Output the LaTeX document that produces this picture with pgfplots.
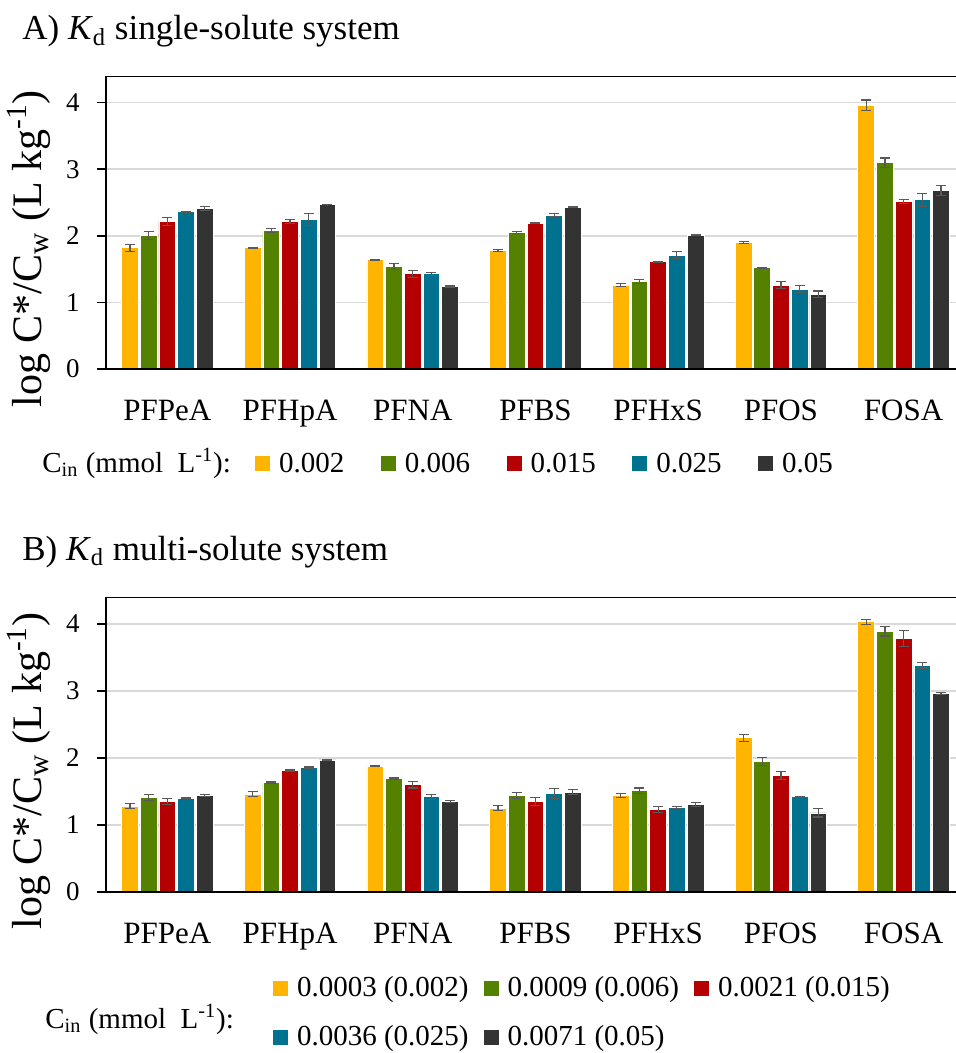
\documentclass[border=0pt]{standalone}
\usepackage{pgfplots}
\usepackage{pgfplotstable}
\usepackage{fontspec}
\setmainfont{Liberation Serif}
\pgfplotsset{compat=1.18}
\definecolor{cy}{HTML}{FFB400}
\definecolor{cg}{HTML}{548200}
\definecolor{cr}{HTML}{B40000}
\definecolor{cb}{HTML}{00718F}
\definecolor{ck}{HTML}{333333}
\definecolor{gridc}{HTML}{D9D9D9}
\definecolor{errc}{HTML}{595959}

\pgfplotstableread{
x a ea b eb c ec d ed e ee
0 1.82 0.05 2.01 0.06 2.22 0.06 2.36 0.01 2.41 0.03
1 1.82 0.005 2.08 0.03 2.22 0.03 2.25 0.09 2.47 0.005
2 1.64 0.01 1.54 0.04 1.43 0.05 1.43 0.02 1.24 0.01
3 1.78 0.01 2.05 0.02 2.19 0.01 2.31 0.02 2.43 0.01
4 1.26 0.02 1.31 0.03 1.61 0.01 1.71 0.05 2.01 0.01
5 1.90 0.01 1.52 0.01 1.26 0.05 1.20 0.05 1.12 0.05
6 3.96 0.08 3.10 0.07 2.51 0.03 2.54 0.10 2.68 0.07
}\tabA

\pgfplotstableread{
x a ea b eb c ec d ed e ee
0 1.28 0.04 1.41 0.05 1.35 0.04 1.40 0.01 1.44 0.01
1 1.46 0.04 1.63 0.01 1.81 0.01 1.86 0.01 1.97 0.01
2 1.88 0.01 1.69 0.01 1.60 0.05 1.42 0.04 1.35 0.01
3 1.25 0.04 1.44 0.05 1.35 0.06 1.47 0.07 1.49 0.04
4 1.44 0.03 1.51 0.04 1.23 0.05 1.26 0.01 1.30 0.03
5 2.30 0.05 1.95 0.06 1.74 0.06 1.42 0.01 1.18 0.06
6 4.03 0.04 3.89 0.07 3.78 0.12 3.38 0.04 2.96 0.01
}\tabB

\pgfplotsset{
  kd/.style={
    scale only axis, width=425pt,
    xmin=-0.5, xmax=6.427, ymin=0, ymax=4.4,
    ybar=0.95pt, bar width=8.4pt,
    axis lines*=left,
    axis line style={black, line width=0.75pt},
    xtick={0,...,6},
    xticklabels={PFPeA,PFHpA,PFNA,PFBS,PFHxS,PFOS,FOSA},
    xtick style={draw=none},
    ytick={0,1,2,3,4},
    ytick style={black, line width=0.75pt},
    tick align=outside, major tick length=4.5pt,
    ymajorgrids, major grid style={draw=gridc, line width=0.75pt},
    /pgf/number format/assume math mode=true,
    yticklabel style={font=\fontsize{13.5}{16}\selectfont, anchor=east, inner sep=0pt, xshift=-8.5pt},
    xticklabel style={font=\fontsize{15.5}{18}\selectfont, anchor=base, inner sep=0pt, yshift=-21pt},
    extra description/.code={
      \draw[black, line width=0.5pt] (rel axis cs:0,1) -- (rel axis cs:1,1);
      \draw[black, line width=0.9pt] (rel axis cs:0,0) -- (rel axis cs:1,0);},
    every axis y label/.style={at={(axis description cs:-0.0753,0.41)}, rotate=90, anchor=base, font=\fontsize{21}{25}\selectfont},
    ylabel={log C*/C\textsubscript{w} (L kg\textsuperscript{-1})},
    legend image code/.code={\fill[#1,draw=none] (0pt,-3pt) rectangle (7.5pt,4.5pt);},
    legend cell align=left,
  },
  err/.style={error bars/.cd, y dir=both, y explicit,
    error bar style={color=errc, line width=0.6pt},
    error mark options={rotate=90, mark size=2.5pt, line width=0.6pt, color=errc}},
}

\begin{document}
\begin{tikzpicture}
\useasboundingbox (0,0) rectangle (478pt,-526.5pt);

\node[anchor=base west, inner sep=0pt, font=\fontsize{17.5}{21}\selectfont] at (11pt,-20pt) {A) \textit{K}\textsubscript{d} single-solute system};
\node[anchor=base west, inner sep=0pt, font=\fontsize{17.5}{21}\selectfont] at (11pt,-280pt) {B) \textit{K}\textsubscript{d} multi-solute system};
\node[anchor=base west, inner sep=0pt, font=\fontsize{14.5}{17}\selectfont] at (21pt,-236pt) {C\textsubscript{in} (mmol\ \ L\textsuperscript{-1}):};
\node[anchor=base west, inner sep=0pt, font=\fontsize{14.5}{17}\selectfont] at (22.5pt,-514pt) {C\textsubscript{in} (mmol\ \ L\textsuperscript{-1}):};

\begin{axis}[kd, at={(53pt,-184.5pt)}, anchor=south west, height=146.5pt,
  legend columns=5,
  legend style={draw=none, fill=none, inner sep=0pt, outer sep=0pt,
    at={(axis description cs:0.1753,-0.2834)}, anchor=north west,
    font=\fontsize{14.5}{17}\selectfont,
    nodes={inner sep=0pt, text height=10pt, text depth=3pt},
    /tikz/every odd column/.append style={column sep=4.5pt},
    /tikz/every even column/.append style={column sep=18.25pt}},
]
\addplot[fill=cy, draw=white, line width=0.4pt, err] table[x=x, y=a, y error=ea] {\tabA};
\addplot[fill=cg, draw=white, line width=0.4pt, err] table[x=x, y=b, y error=eb] {\tabA};
\addplot[fill=cr, draw=white, line width=0.4pt, err] table[x=x, y=c, y error=ec] {\tabA};
\addplot[fill=cb, draw=white, line width=0.4pt, err] table[x=x, y=d, y error=ed] {\tabA};
\addplot[fill=ck, draw=white, line width=0.4pt, err] table[x=x, y=e, y error=ee] {\tabA};
\legend{0.002,0.006,0.015,0.025,0.05}
\end{axis}

\begin{axis}[kd, at={(53pt,-446pt)}, anchor=south west, height=147.5pt,
  legend columns=3,
  legend style={draw=none, fill=none, inner sep=0pt, outer sep=0pt,
    at={(axis description cs:0.1965,-0.2880)}, anchor=north west,
    font=\fontsize{14.5}{17}\selectfont, row sep=11.5pt,
    nodes={inner sep=0pt, text height=10pt, text depth=3pt},
    /tikz/every odd column/.append style={column sep=4.5pt},
    /tikz/every even column/.append style={column sep=7.5pt}},
]
\addplot[fill=cy, draw=white, line width=0.4pt, err] table[x=x, y=a, y error=ea] {\tabB};
\addplot[fill=cg, draw=white, line width=0.4pt, err] table[x=x, y=b, y error=eb] {\tabB};
\addplot[fill=cr, draw=white, line width=0.4pt, err] table[x=x, y=c, y error=ec] {\tabB};
\addplot[fill=cb, draw=white, line width=0.4pt, err] table[x=x, y=d, y error=ed] {\tabB};
\addplot[fill=ck, draw=white, line width=0.4pt, err] table[x=x, y=e, y error=ee] {\tabB};
\legend{0.0003 (0.002),0.0009 (0.006),0.0021 (0.015),0.0036 (0.025),0.0071 (0.05)}
\end{axis}
\end{tikzpicture}
\end{document}
